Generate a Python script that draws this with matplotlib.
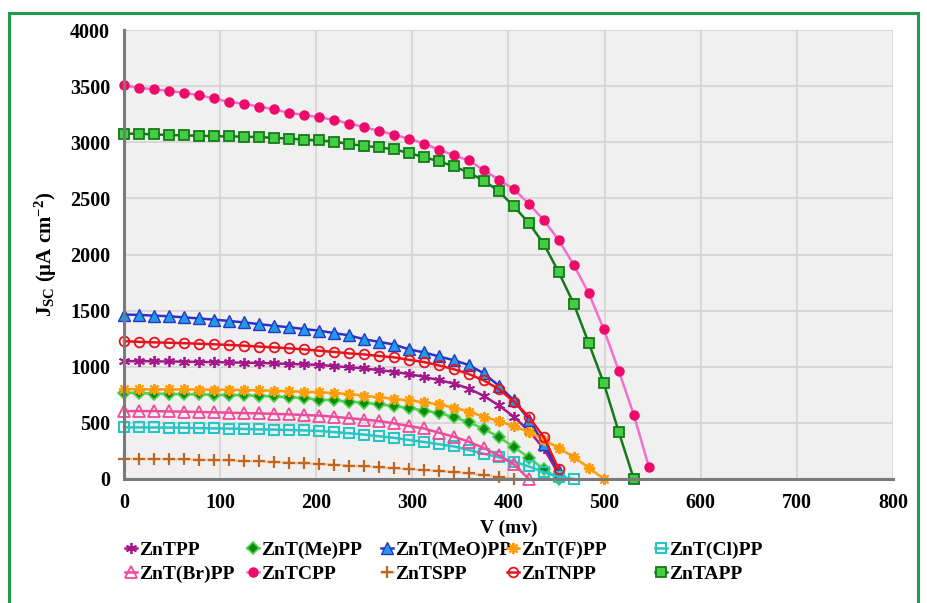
import matplotlib
matplotlib.use("Agg")
import matplotlib.pyplot as plt
from matplotlib.patches import Rectangle

plt.rcParams["font.family"] = ["Liberation Serif", "DejaVu Serif"]
plt.rcParams["font.weight"] = "bold"
plt.rcParams["mathtext.fontset"] = "custom"
plt.rcParams["mathtext.rm"] = "Liberation Serif:bold"
plt.rcParams["mathtext.bf"] = "Liberation Serif:bold"
plt.rcParams["mathtext.it"] = "Liberation Serif:bold"
plt.rcParams["mathtext.default"] = "bf"

# voltage grid (mV), shared by all curves; each curve uses the first len(J) points
V = [0, 15.6, 31.2, 46.8, 62.4, 78.0, 93.6, 109.2, 124.8, 140.4, 156.0, 171.6,
     187.2, 202.8, 218.4, 234.0, 249.6, 265.2, 280.8, 296.4, 312.0, 327.6, 343.2,
     358.8, 374.4, 390.0, 405.6, 421.2, 436.8, 452.4, 468.0, 483.6, 499.2, 514.8,
     530.4, 546.0]

# current density (uA cm-2)
J_TPP = [1050, 1050, 1048, 1047, 1045, 1043, 1041, 1039, 1036, 1034, 1030, 1025,
         1021, 1017, 1005, 996, 985, 970, 955, 935, 910, 881, 850, 805, 740, 655,
         555, 428, 272, 40]
J_Me = [770, 765, 760, 758, 755, 753, 750, 748, 746, 742, 735, 728, 720, 708, 700,
        690, 679, 665, 650, 632, 610, 587, 552, 505, 447, 373, 285, 191, 88, 0]
J_MeO = [1465, 1462, 1455, 1450, 1440, 1430, 1420, 1408, 1395, 1380, 1365, 1352,
         1336, 1322, 1300, 1280, 1245, 1222, 1198, 1155, 1128, 1092, 1058, 1015,
         940, 830, 700, 530, 310, 75]
J_F = [800, 800, 799, 798, 798, 797, 796, 795, 793, 790, 786, 783, 777, 773, 765,
       757, 742, 728, 714, 700, 684, 665, 635, 600, 555, 515, 470, 420, 350, 275,
       195, 100, 0]
J_Cl = [460, 460, 459, 458, 457, 453, 451, 449, 446, 442, 440, 437, 433, 428, 418,
        408, 396, 381, 367, 348, 330, 310, 290, 258, 225, 193, 155, 112, 60, 18, 0]
J_Br = [605, 605, 605, 602, 600, 597, 594, 591, 587, 585, 580, 576, 570, 565, 555,
        542, 530, 516, 496, 472, 450, 412, 377, 332, 275, 210, 130, 0]
J_CPP = [3507, 3485, 3472, 3458, 3440, 3418, 3390, 3360, 3342, 3318, 3293, 3262,
         3244, 3222, 3200, 3166, 3136, 3100, 3068, 3032, 2988, 2934, 2884, 2838,
         2750, 2667, 2580, 2452, 2305, 2127, 1905, 1653, 1332, 964, 570, 109]
J_SPP = [180, 179, 178, 177, 175, 172, 168, 165, 160, 156, 150, 146, 140, 134, 127,
         120, 112, 104, 96, 88, 80, 72, 62, 50, 35, 18, 0]
J_NPP = [1228, 1222, 1217, 1214, 1210, 1205, 1200, 1194, 1188, 1180, 1173, 1164,
         1155, 1143, 1132, 1119, 1110, 1096, 1084, 1062, 1042, 1012, 978, 935, 878,
         800, 690, 555, 372, 85]
J_APP = [3077, 3075, 3070, 3064, 3061, 3058, 3054, 3052, 3050, 3046, 3039, 3032,
         3024, 3016, 3005, 2985, 2968, 2955, 2937, 2904, 2868, 2830, 2786, 2728,
         2658, 2563, 2428, 2281, 2092, 1840, 1558, 1208, 852, 416, 0]

names = ["ZnTPP", "ZnT(Me)PP", "ZnT(MeO)PP", "ZnT(F)PP", "ZnT(Cl)PP",
         "ZnT(Br)PP", "ZnTCPP", "ZnTSPP", "ZnTNPP", "ZnTAPP"]
curves = [J_TPP, J_Me, J_MeO, J_F, J_Cl, J_Br, J_CPP, J_SPP, J_NPP, J_APP]

styles = [
    dict(color="#a3198c", marker=(6, 2, 0), mfc="#a3198c", mec="#a3198c", ms=8, mew=1.3),
    dict(color="#4fd24f", marker="D", mfc="#0e8a0e", mec="#4fd24f", ms=6.5, mew=1.2),
    dict(color="#2a35c8", marker="^", mfc="#1f9ce3", mec="#2a35c8", ms=8, mew=1.0),
    dict(color="#ff9d0a", marker=(8, 2, 0), mfc="#ff9d0a", mec="#ff9d0a", ms=8, mew=1.5),
    dict(color="#26c6c6", marker="s", mfc="none", mec="#26c6c6", ms=7, mew=1.5),
    dict(color="#ee4b9b", marker="^", mfc="none", mec="#ee4b9b", ms=8, mew=1.3),
    dict(color="#f070cf", marker="o", mfc="#ee0a68", mec="#ee0a68", ms=6.5, mew=1.0),
    dict(color="#f7c39a", marker="+", mfc="#c0651f", mec="#c0651f", ms=8, mew=1.6),
    dict(color="#e8131c", marker="o", mfc="none", mec="#e8131c", ms=7, mew=1.3),
    dict(color="#137a17", marker="s", mfc="#45cc45", mec="#137a17", ms=7.5, mew=1.3),
]

fig = plt.figure(figsize=(9.28, 6.03), dpi=100)
ax = fig.add_axes([124 / 928, 1 - 479 / 603, 769 / 928, 449 / 603])
ax.set_facecolor("#f0f0f0")

handles = []
for name, J, st in zip(names, curves, styles):
    h, = ax.plot(V[:len(J)], J, lw=1.8, label=name, clip_on=False, **st)
    handles.append(h)

ax.set_xlim(0, 800)
ax.set_ylim(0, 4000)
ax.set_xticks(range(0, 801, 100))
ax.set_yticks(range(0, 4001, 500))
ax.grid(True, color="#d6d6d6", lw=1.3)
ax.set_axisbelow(True)
for s in ("top", "right"):
    ax.spines[s].set_visible(False)
for s in ("left", "bottom"):
    ax.spines[s].set_color("#7a7a7a")
    ax.spines[s].set_linewidth(2.2)
ax.tick_params(axis="x", length=0, labelsize=14.5, pad=10)
ax.tick_params(axis="y", length=0, labelsize=14.5, pad=10)
for lab in ax.get_xticklabels() + ax.get_yticklabels():
    lab.set_fontweight("bold")

ax.set_xlabel("V (mv)", fontsize=14, fontweight="bold", labelpad=5)
ax.set_ylabel(r"J$_{SC}$ ($\mathrm{\mu}$A cm$^{-2}$)", fontsize=15,
              fontweight="bold", labelpad=8)

# Excel legend: 5 columns, filled row by row -> one small legend per column
col_x = [125, 247, 381, 507, 655]
for c, x0 in enumerate(col_x):
    idx = [c, c + 5]
    fig.legend([handles[i] for i in idx], [names[i] for i in idx],
               loc="upper left", bbox_to_anchor=(x0 / 928, 1 - 541 / 603),
               frameon=False, handlelength=0.6, handletextpad=0.15,
               labelspacing=0.34, borderpad=0, borderaxespad=0,
               prop={"weight": "bold", "size": 14})

fig.patches.append(Rectangle((9 / 928, -0.02), 909 / 928, 1 - 13 / 603 + 0.02,
                             transform=fig.transFigure, fill=False,
                             edgecolor="#1e9b4c", lw=2.2))

fig.savefig("out.png", dpi=100, facecolor="white")
